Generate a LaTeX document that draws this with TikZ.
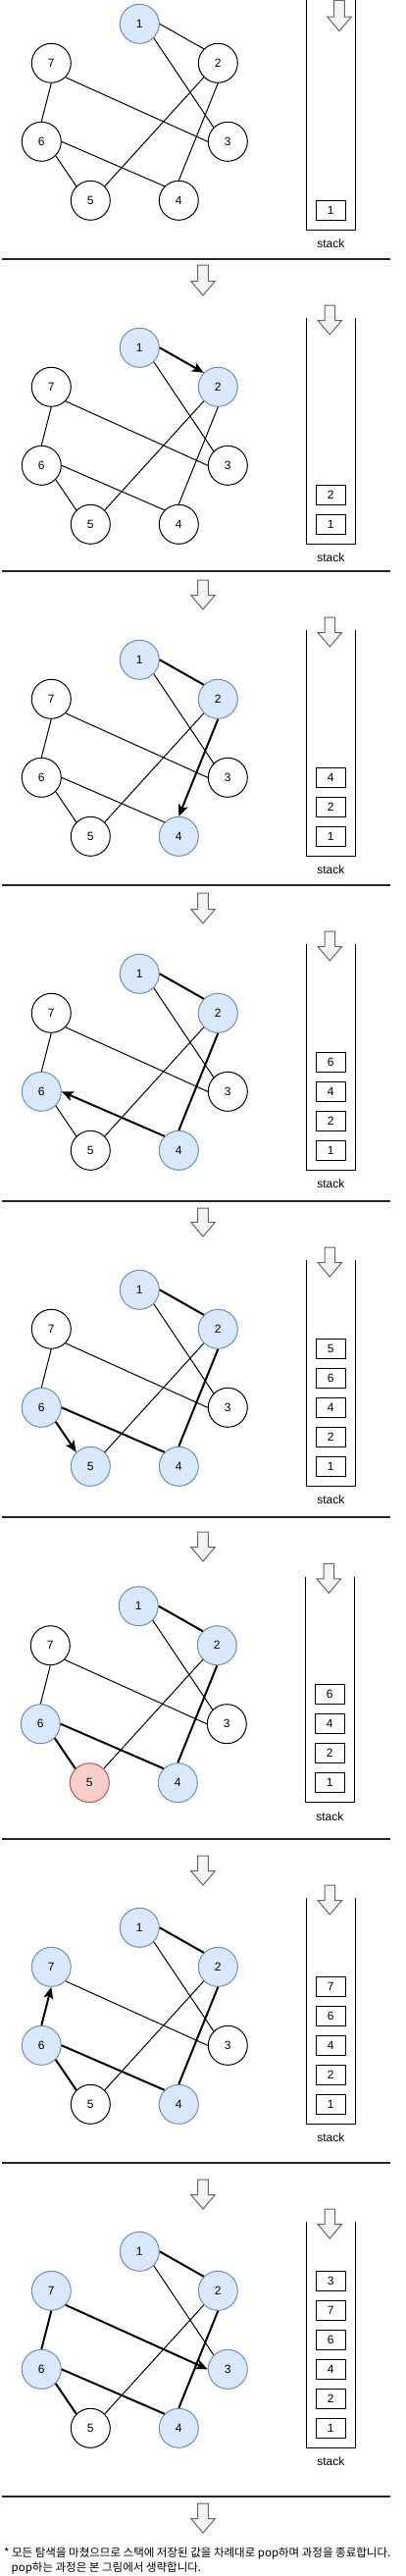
\documentclass[tikz,border=0pt]{standalone}
\usepackage{fontspec}
\setmainfont{Liberation Sans}
\newfontfamily\krfont{Noto Sans CJK KR}
\usepackage{tikz}
\usetikzlibrary{arrows.meta}
\definecolor{dfsFill}{HTML}{DAE8FC}
\definecolor{dfsLine}{HTML}{6C8EBF}
\definecolor{popFill}{HTML}{F8CECC}
\definecolor{popLine}{HTML}{B85450}
\definecolor{arrFill}{HTML}{F5F5F5}
\definecolor{arrLine}{HTML}{666666}
\definecolor{ruleGray}{HTML}{262626}

% per-panel hooks: set inside each scope
\tikzset{
  v1/.style={}, v2/.style={}, v3/.style={}, v4/.style={},
  v5/.style={}, v6/.style={}, v7/.style={},
  e12/.style={}, e13/.style={}, e24/.style={}, e25/.style={},
  e37/.style={}, e46/.style={}, e56/.style={}, e67/.style={}
}

% the graph of one step (node names get the panel prefix)
\newcommand\dfsgraph[1]{%
  \node[vtx,v1] (#1-1) at (142.3,24.3) {1};
  \node[vtx,v2] (#1-2) at (222.3,64.3) {2};
  \node[vtx,v3] (#1-3) at (232.3,144.3) {3};
  \node[vtx,v4] (#1-4) at (182.3,204.3) {4};
  \node[vtx,v5] (#1-5) at (92.3,204.3) {5};
  \node[vtx,v6] (#1-6) at (42.3,144.3) {6};
  \node[vtx,v7] (#1-7) at (52.3,64.3) {7};
  \draw[edge,e12] (#1-1.east) -- (#1-2.north west);
  \draw[edge,e13] (#1-1.south east) -- (#1-3.north west);
  \draw[edge,e24] (#1-2.south) -- (#1-4.north);
  \draw[edge,e25] (#1-2.south west) -- (#1-5.north east);
  \draw[edge,e37] (#1-7.south east) -- (#1-3.west);
  \draw[edge,e46] (#1-6.east) -- (#1-4.north west);
  \draw[edge,e56] (#1-6.south east) -- (#1-5.north west);
  \draw[edge,e67] (#1-7.south) -- (#1-6.north);
}

% the stack: name, top, bottom, items from the bottom up
\newcommand\dfsstack[4]{%
  \draw[line width=1pt] (312.3,#2) -- (312.3,#3) -- (362.3,#3) -- (362.3,#2);
  \foreach \val [count=\k] in {#4}
    \node[cell] (#1-s\k) at (337.3,{#3-20-30*(\k-1)}) {\val};
  \node[lbl] (#1-lbl) at (337.3,#3+14) {stack};
}

% block arrow pointing down: x, top, tip
\newcommand\pusharrow[3]{%
  \draw[blockarrow] (#1-5.3,#2) -- (#1+5.3,#2) -- (#1+5.3,#3-14.5)
    -- (#1+12.3,#3-14.5) -- (#1,#3) -- (#1-12.3,#3-14.5)
    -- (#1-5.3,#3-14.5) -- cycle;
}

\begin{document}
\begin{tikzpicture}[x=1pt, y=-1pt, line cap=butt, line join=round,
    vtx/.style={circle, draw=black, fill=white, line width=1pt,
      minimum size=40pt, inner sep=0pt, font=\fontsize{12}{14}\selectfont},
    seen/.style={fill=dfsFill, draw=dfsLine},
    popped/.style={fill=popFill, draw=popLine},
    edge/.style={black, line width=1pt},
    tree/.style={line width=2pt},
    fwd/.style={tree, -{Stealth[length=12pt, width=10pt, inset=3pt]}},
    bwd/.style={tree, {Stealth[length=12pt, width=10pt, inset=3pt]}-},
    cell/.style={draw, line width=1pt, fill=white, minimum width=30pt,
      minimum height=20pt, inner sep=0pt, font=\fontsize{12}{14}\selectfont},
    lbl/.style={inner sep=0pt, font=\fontsize{12}{14}\selectfont},
    blockarrow/.style={draw=arrLine, fill=arrFill, line width=1pt, line join=miter},
    rule/.style={ruleGray, line width=2pt}]
  \useasboundingbox (0,0) rectangle (413,2625);

  % ── step 1: start at 1 ──────────────────────────────────────────────
  \begin{scope}[v1/.style=seen]
    \dfsgraph{a}
    \dfsstack{a}{0}{234.3}{1}
    \pusharrow{346}{0.5}{31.7}
  \end{scope}

  % ── step 2: 1 -> 2 ──────────────────────────────────────────────────
  \begin{scope}[shift={(0,330)}, v1/.style=seen, v2/.style=seen, e12/.style=fwd]
    \dfsgraph{b}
    \dfsstack{b}{-5.7}{224.3}{1,2}
    \pusharrow{336.3}{-19}{11}
  \end{scope}

  % ── step 3: 2 -> 4 ──────────────────────────────────────────────────
  \begin{scope}[shift={(0,648)}, v1/.style=seen, v2/.style=seen, v4/.style=seen,
      e12/.style=tree, e24/.style=fwd]
    \dfsgraph{c}
    \dfsstack{c}{-5.7}{224.3}{1,2,4}
    \pusharrow{336.3}{-19}{11}
  \end{scope}

  % ── step 4: 4 -> 6 ──────────────────────────────────────────────────
  \begin{scope}[shift={(0,968)}, v1/.style=seen, v2/.style=seen, v4/.style=seen,
      v6/.style=seen, e12/.style=tree, e24/.style=tree, e46/.style=bwd]
    \dfsgraph{d}
    \dfsstack{d}{-5.7}{224.3}{1,2,4,6}
    \pusharrow{336.3}{-19}{11}
  \end{scope}

  % ── step 5: 6 -> 5 ──────────────────────────────────────────────────
  \begin{scope}[shift={(0,1290)}, v1/.style=seen, v2/.style=seen, v4/.style=seen,
      v5/.style=seen, v6/.style=seen, e12/.style=tree, e24/.style=tree,
      e46/.style=tree, e56/.style=fwd]
    \dfsgraph{e}
    \dfsstack{e}{-5.7}{224.3}{1,2,4,6,5}
    \pusharrow{336.3}{-19}{11}
  \end{scope}

  % ── step 6: 5 is a dead end, pop ────────────────────────────────────
  \begin{scope}[shift={(-1,1612.4)}, v1/.style=seen, v2/.style=seen, v4/.style=seen,
      v5/.style=popped, v6/.style=seen, e12/.style=tree, e24/.style=tree,
      e46/.style=tree, e56/.style=tree]
    \dfsgraph{f}
    \dfsstack{f}{-5.7}{224.3}{1,2,4,6}
    \pusharrow{336.3}{-19}{11}
  \end{scope}

  % ── step 7: 6 -> 7 ──────────────────────────────────────────────────
  \begin{scope}[shift={(0,1940)}, v1/.style=seen, v2/.style=seen, v4/.style=seen,
      v6/.style=seen, v7/.style=seen, e12/.style=tree, e24/.style=tree,
      e46/.style=tree, e56/.style=tree, e67/.style=bwd]
    \dfsgraph{g}
    \dfsstack{g}{-5.7}{224.3}{1,2,4,6,7}
    \pusharrow{336.3}{-19}{11}
  \end{scope}

  % ── step 8: 7 -> 3 ──────────────────────────────────────────────────
  \begin{scope}[shift={(0,2270)}, v1/.style=seen, v2/.style=seen, v3/.style=seen,
      v4/.style=seen, v6/.style=seen, v7/.style=seen, e12/.style=tree,
      e24/.style=tree, e46/.style=tree, e56/.style=tree, e67/.style=tree,
      e37/.style=fwd]
    \dfsgraph{h}
    \dfsstack{h}{-5.7}{224.3}{1,2,4,6,7,3}
    \pusharrow{336.3}{-19}{11}
  \end{scope}

  % ── rules between steps, and the arrow below each ───────────────────
  \foreach \ry/\at/\ap in {264.3/270/301, 582.3/591/621, 902.3/910/941,
      1224.3/1231/1260, 1546/1561/1591, 1874/1891/1921, 2204/2221/2251,
      2544.3/2551/2581} {
    \draw[rule] (2,\ry) -- (398,\ry);
    \pusharrow{207}{\at}{\ap}
  }

  % ── closing note ────────────────────────────────────────────────────
  \node[anchor=west, align=left, inner sep=0pt,
      font=\krfont\fontsize{11.5}{14.4}\selectfont] (note) at (4,2609.5)
    {* 모든 탐색을 마쳤으므로 스택에 저장된 값을 차례대로 pop하며 과정을 종료합니다.\\
     \hspace*{7.5pt}pop하는 과정은 본 그림에서 생략합니다.};
\end{tikzpicture}
\end{document}
